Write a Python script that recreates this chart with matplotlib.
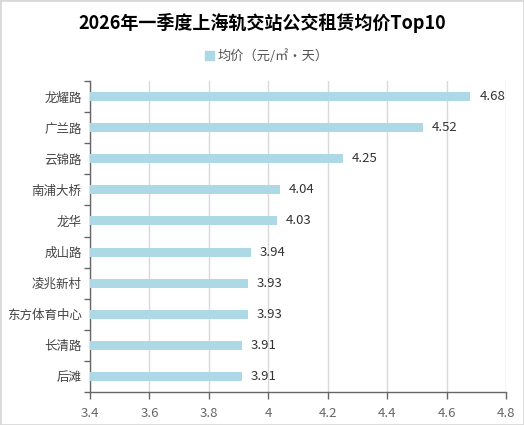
import numpy as np
import matplotlib.pyplot as plt
from matplotlib.patches import Rectangle

plt.rcParams['font.family'] = ['Noto Sans CJK SC', 'DejaVu Sans']

stations = ['龙耀路', '广兰路', '云锦路', '南浦大桥', '龙华', '成山路', '凌兆新村', '东方体育中心', '长清路', '后滩']
prices = [4.68, 4.52, 4.25, 4.04, 4.03, 3.94, 3.93, 3.93, 3.91, 3.91]
xticks = [3.4, 3.6, 3.8, 4.0, 4.2, 4.4, 4.6, 4.8]
xtick_labels = ['3.4', '3.6', '3.8', '4', '4.2', '4.4', '4.6', '4.8']

base = 3.4
bar_color = '#ADD8E6'
axis_color = '#666666'

fig = plt.figure(figsize=(5.24, 4.25), dpi=100)
fig.patches.append(Rectangle((0, 0), 1, 1, transform=fig.transFigure,
                             fill=False, edgecolor='#d9d9d9', linewidth=2))
ax = fig.add_axes([0.1718, 0.0776, 0.794, 0.7318])

y = np.arange(len(stations))
vals = np.array(prices) - base
ax.barh(y, vals, left=base, height=0.29, color=bar_color, zorder=3)
for yi, v in zip(y, prices):
    ax.text(v + 0.03, yi, f'{v:.2f}', va='center', ha='left', fontsize=9.5, color='#333333')

ax.set_xlim(3.4, 4.8)
ax.set_ylim(len(stations) - 0.5, -0.5)
ax.set_xticks(xticks)
ax.set_xticklabels(xtick_labels)
ax.set_yticks(np.arange(len(stations) + 1) - 0.5)
ax.set_yticklabels([])
ax.set_yticks(y, minor=True)
ax.set_yticklabels(stations, minor=True)
ax.tick_params(axis='y', which='major', length=4, color=axis_color, width=1)
ax.tick_params(axis='y', which='minor', length=0, pad=6, labelsize=9, labelcolor='#444444')
ax.tick_params(axis='x', length=5, color=axis_color, width=1, labelsize=9.5,
               labelcolor=axis_color, pad=6)
ax.grid(axis='x', color='#d9d9d9', linewidth=1, zorder=0)
for s in ['top', 'right']:
    ax.spines[s].set_visible(False)
for s in ['left', 'bottom']:
    ax.spines[s].set_color(axis_color)
    ax.spines[s].set_linewidth(1)

fig.text(0.5, 0.946, '2026年一季度上海轨交站公交租赁均价Top10', ha='center', va='center',
         fontsize=13, fontweight='bold', color='#000000')
fig.patches.append(Rectangle((0.392, 0.860), 0.016, 0.02, transform=fig.transFigure,
                             color=bar_color))
fig.text(0.415, 0.868, '均价（元/㎡·天）', ha='left', va='center', fontsize=9.5, color='#555555')

fig.savefig('out.png', dpi=100)
